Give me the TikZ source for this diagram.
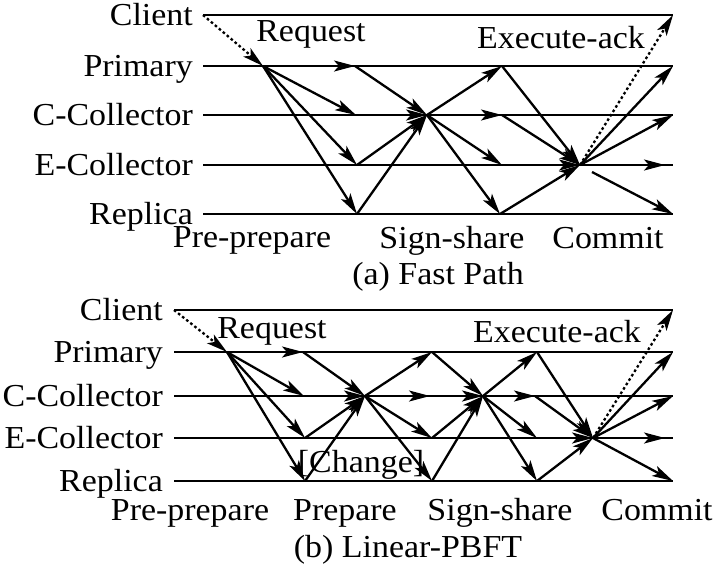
\documentclass[tikz,border=0pt]{standalone}
\usepackage{fontspec}
\setmainfont{Liberation Serif}[FakeStretch=1.06]
\usetikzlibrary{arrows.meta}
\begin{document}
\begin{tikzpicture}[x=1pt,y=-1pt,
  life/.style={line width=2.3pt},
  msg/.style={line width=2.3pt,-{Stealth[length=21pt,width=11pt,inset=5pt]}},
  dmsg/.style={msg,dash pattern=on 2.6pt off 2.6pt},
  lbl/.style={font=\fontsize{32}{36}\selectfont,inner sep=0pt}]
\useasboundingbox (0,0) rectangle (717,571);
% ================= (a) Fast Path =================
\foreach \n/\y in {C/15,P/66,CC/115,E/165,R/214}{
  \coordinate (aS\n) at (203,\y);
  \coordinate (aT\n) at (673,\y);
}
\foreach \n/\t in {C/Client,P/Primary,CC/C-Collector,E/E-Collector,R/Replica}{
  \node[lbl,anchor=base east] (aL\n) at ([shift={(-10,10)}]aS\n) {\t};
  \draw[life] (aS\n) -- (aT\n);
}
\coordinate (aReq) at (263,66);
\coordinate (a1P) at (355,66);
\coordinate (a1C) at (356,115);
\coordinate (a1E) at (357,165);
\coordinate (a1R) at (357,214);
\coordinate (aSS) at (427,115);
\coordinate (a2P) at (502,66);
\coordinate (a2C) at (502,115);
\coordinate (a2E) at (502,165);
\coordinate (a2R) at (500,214);
\coordinate (aCm) at (580,165);
\coordinate (aCmR) at (592,172);
\coordinate (aEE) at (665,165);
\draw[dmsg] (aSC) -- (aReq);
\foreach \p in {a1P,a1C,a1E,a1R}{ \draw[msg] (aReq) -- (\p); }
\foreach \p in {a1P,a1C,a1E,a1R}{ \draw[msg] (\p) -- (aSS); }
\foreach \p in {a2P,a2C,a2E,a2R}{ \draw[msg] (aSS) -- (\p); }
\foreach \p in {a2P,a2C,a2E,a2R}{ \draw[msg] (\p) -- (aCm); }
\draw[msg] (aCm) -- (aTP);
\draw[msg] (aCm) -- (aTCC);
\draw[msg] (aCm) -- (aEE);
\draw[msg] (aCmR) -- (aTR);
\draw[dmsg] (aCm) -- (aTC);
\node[lbl,anchor=base] (aRq) at (311,41) {Request};
\node[lbl,anchor=base] (aEx) at (561,48) {Execute-ack};
\node[lbl,anchor=base] (aPp) at (252,247) {Pre-prepare};
\node[lbl,anchor=base] (aSg) at (452,248) {Sign-share};
\node[lbl,anchor=base] (aCo) at (608,248) {Commit};
\node[lbl,anchor=base] (aCap) at (438,284) {(a) Fast Path};
% ================= (b) Linear-PBFT =================
\foreach \n/\y in {C/310,P/352,CC/396,E/438,R/481}{
  \coordinate (bS\n) at (174,\y);
  \coordinate (bT\n) at (673,\y);
}
\foreach \n/\t in {C/Client,P/Primary,CC/C-Collector,E/E-Collector,R/Replica}{
  \node[lbl,anchor=base east] (bL\n) at ([shift={(-11,10)}]bS\n) {\t};
  \draw[life] (bS\n) -- (bT\n);
}
\coordinate (bReq) at (227,352);
\coordinate (b1P) at (303,352);
\coordinate (b1C) at (304,396);
\coordinate (b1E) at (305,438);
\coordinate (b1R) at (305,481);
\coordinate (bPr) at (365,396);
\coordinate (b2P) at (432,352);
\coordinate (b2C) at (430,396);
\coordinate (b2E) at (432,438);
\coordinate (b2R) at (432,481);
\coordinate (bSS) at (483,396);
\coordinate (b3P) at (537,352);
\coordinate (b3C) at (535,396);
\coordinate (b3E) at (537,438);
\coordinate (b3R) at (537,481);
\coordinate (bCm) at (593,438);
\coordinate (bEE) at (665,438);
\draw[dmsg] (bSC) -- (bReq);
\foreach \p in {b1P,b1C,b1E,b1R}{ \draw[msg] (bReq) -- (\p); }
\foreach \p in {b1P,b1C,b1E,b1R}{ \draw[msg] (\p) -- (bPr); }
\foreach \p in {b2P,b2C,b2E,b2R}{ \draw[msg] (bPr) -- (\p); }
\foreach \p in {b2P,b2C,b2E,b2R}{ \draw[msg] (\p) -- (bSS); }
\foreach \p in {b3P,b3C,b3E,b3R}{ \draw[msg] (bSS) -- (\p); }
\foreach \p in {b3P,b3C,b3E,b3R}{ \draw[msg] (\p) -- (bCm); }
\draw[msg] (bCm) -- (bTP);
\draw[msg] (bCm) -- (bTCC);
\draw[msg] (bCm) -- (bEE);
\draw[msg] (bCm) -- (bTR);
\draw[dmsg] (bCm) -- (bTC);
\node[lbl,anchor=base] (bRq) at (272,338) {Request};
\node[lbl,anchor=base] (bEx) at (557,342) {Execute-ack};
\node[lbl,anchor=base] (bCh) at (361,472) {[Change]};
\node[lbl,anchor=base] (bPp) at (190,520) {Pre-prepare};
\node[lbl,anchor=base] (bPa) at (345,520) {Prepare};
\node[lbl,anchor=base] (bSg) at (500,520) {Sign-share};
\node[lbl,anchor=base] (bCo) at (657,520) {Commit};
\node[lbl,anchor=base] (bCap) at (408,557) {(b) Linear-PBFT};
\end{tikzpicture}
\end{document}
